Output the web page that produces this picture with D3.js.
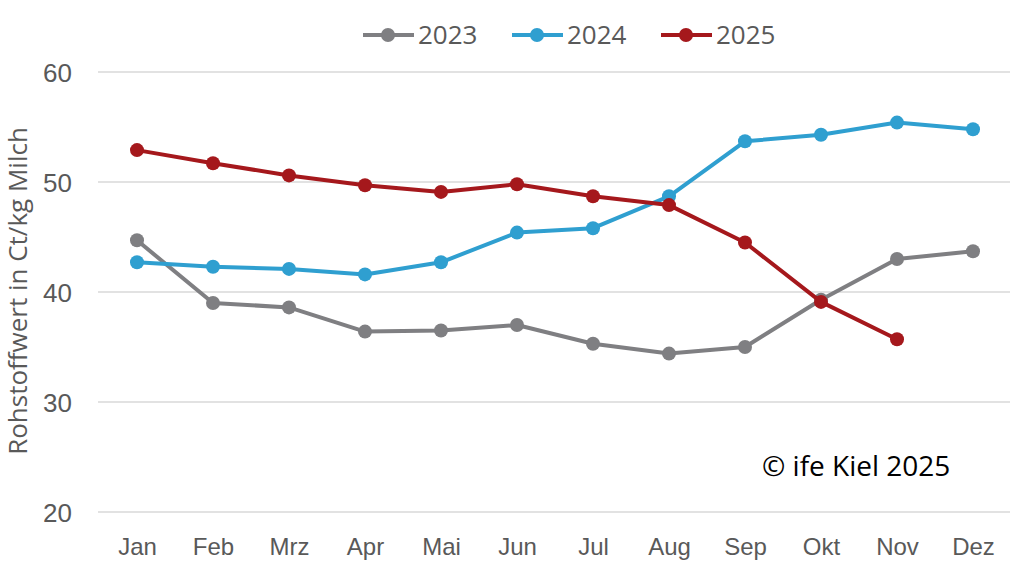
<!DOCTYPE html>
<html>
<head>
<meta charset="utf-8">
<script src="https://cdn.jsdelivr.net/npm/d3@7"></script>
<style>
  body { margin: 0; background: #fff; }
  svg { font-family: "Open Sans", Lato, sans-serif; }
</style>
</head>
<body>
<script>
// --- Data ---
const months = ["Jan", "Feb", "Mrz", "Apr", "Mai", "Jun", "Jul", "Aug", "Sep", "Okt", "Nov", "Dez"];
const values2023 = [44.7, 39.0, 38.6, 36.4, 36.5, 37.0, 35.3, 34.4, 35.0, 39.3, 43.0, 43.7];
const values2024 = [42.7, 42.3, 42.1, 41.6, 42.7, 45.4, 45.8, 48.7, 53.7, 54.3, 55.4, 54.8];
const values2025 = [52.9, 51.7, 50.6, 49.7, 49.1, 49.8, 48.7, 47.9, 44.5, 39.1, 35.7];
const yTicks = [20, 30, 40, 50, 60];

const series = [
    { name: "2023", values: values2023, color: "#7f7f82" },
    { name: "2024", values: values2024, color: "#2f9fd0" },
    { name: "2025", values: values2025, color: "#a5181c" }
];

// --- SVG Setup ---
const width = 1024, height = 570;
const margin = { top: 72, right: 14, bottom: 58, left: 98 };

const svg = d3.select("body").append("svg")
    .attr("width", width)
    .attr("height", height);

const x = d3.scalePoint()
    .domain(months)
    .range([margin.left + 39, width - margin.right - 37]);

const y = d3.scaleLinear()
    .domain([20, 60])
    .range([height - margin.bottom, margin.top]);

// Gridlines
svg.append("g")
    .selectAll("line")
    .data(yTicks)
    .enter().append("line")
    .attr("x1", margin.left)
    .attr("x2", width - margin.right)
    .attr("y1", d => y(d))
    .attr("y2", d => y(d))
    .attr("stroke", "#d9d9d9")
    .attr("stroke-width", 1.5);

// Y axis
const yAxis = svg.append("g")
    .attr("transform", `translate(${margin.left - 26}, 0)`)
    .call(d3.axisLeft(y).tickValues(yTicks).tickSize(0).tickPadding(0));
yAxis.select(".domain").remove();
yAxis.selectAll("text")
    .attr("fill", "#595959")
    .style("font-size", "26px")
    .attr("dy", "0.35em");

// X axis
const xAxis = svg.append("g")
    .attr("transform", `translate(0, ${height - margin.bottom})`)
    .call(d3.axisBottom(x).tickSize(0).tickPadding(26));
xAxis.select(".domain").remove();
xAxis.selectAll("text")
    .attr("fill", "#595959")
    .style("font-size", "24px");

// Y axis label
svg.append("text")
    .attr("transform", "rotate(-90)")
    .attr("x", -291)
    .attr("y", 27)
    .attr("text-anchor", "middle")
    .attr("fill", "#595959")
    .style("font-size", "26px")
    .text("Rohstoffwert in Ct/kg Milch");

// Lines and points
const line = d3.line()
    .x((d, i) => x(months[i]))
    .y(d => y(d));

series.forEach(s => {
    svg.append("path")
        .datum(s.values)
        .attr("fill", "none")
        .attr("stroke", s.color)
        .attr("stroke-width", 4)
        .attr("stroke-linejoin", "round")
        .attr("d", line);

    svg.append("g")
        .selectAll("circle")
        .data(s.values)
        .enter().append("circle")
        .attr("cx", (d, i) => x(months[i]))
        .attr("cy", d => y(d))
        .attr("r", 7)
        .attr("fill", s.color);
});

// Legend
const legendX = [363, 512, 661];
const legend = svg.append("g");
const entries = legend.selectAll("g")
    .data(series)
    .enter().append("g")
    .attr("transform", (d, i) => `translate(${legendX[i]}, 35)`);

entries.append("line")
    .attr("x1", 0).attr("x2", 51)
    .attr("stroke", d => d.color)
    .attr("stroke-width", 4);
entries.append("circle")
    .attr("cx", 25)
    .attr("r", 7)
    .attr("fill", d => d.color);
entries.append("text")
    .attr("x", 55)
    .attr("dy", "0.36em")
    .attr("fill", "#595959")
    .style("font-size", "26px")
    .text(d => d.name);

// Copyright
svg.append("text")
    .attr("x", 762)
    .attr("y", 476)
    .attr("fill", "#000")
    .style("font-size", "28px")
    .text("© ife Kiel 2025");
</script>
</body>
</html>
